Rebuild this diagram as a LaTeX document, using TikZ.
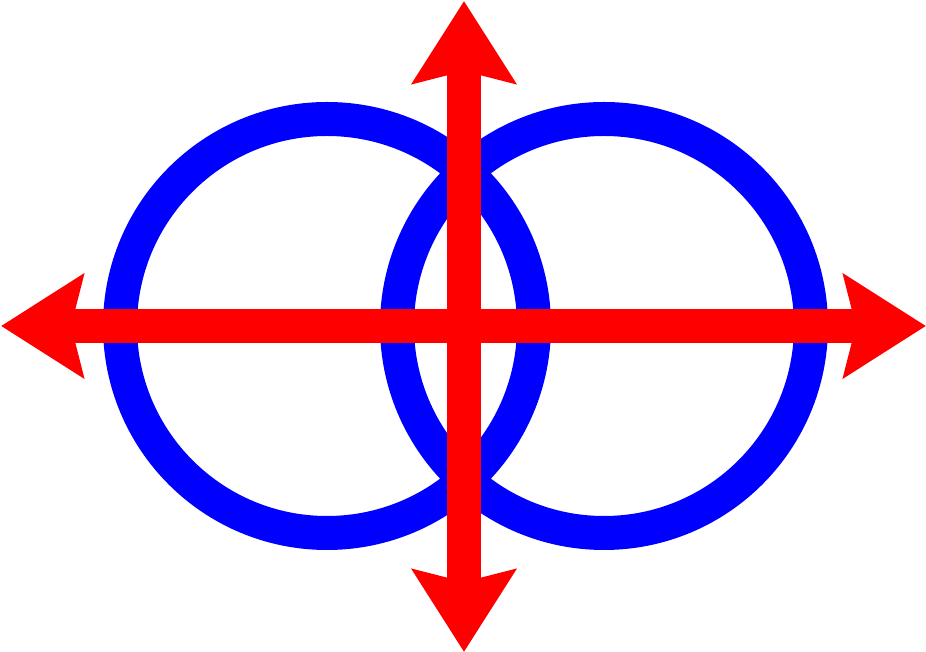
\documentclass[tikz,border=0pt]{standalone}
\usetikzlibrary{arrows.meta}
\tikzset{
  ring/.style={draw=blue,line width=34pt},
  axis/.style={draw=red,line width=34pt,
    {Stealth[length=82pt,width=102pt,inset=12pt]}-{Stealth[length=82pt,width=102pt,inset=12pt]}}
}
\begin{document}
\begin{tikzpicture}[x=1pt,y=1pt]
\useasboundingbox (0,0) rectangle (926,652);
% rings
\path[ring] (327,326) circle[radius=207pt];
\path[ring] (604,326) circle[radius=207pt];
% arrow ends
\coordinate (west) at (1,326);
\coordinate (east) at (926,326);
\coordinate (south) at (464,0);
\coordinate (north) at (464,651);
\path[axis] (west) -- (east);
\path[axis] (south) -- (north);
\end{tikzpicture}
\end{document}
